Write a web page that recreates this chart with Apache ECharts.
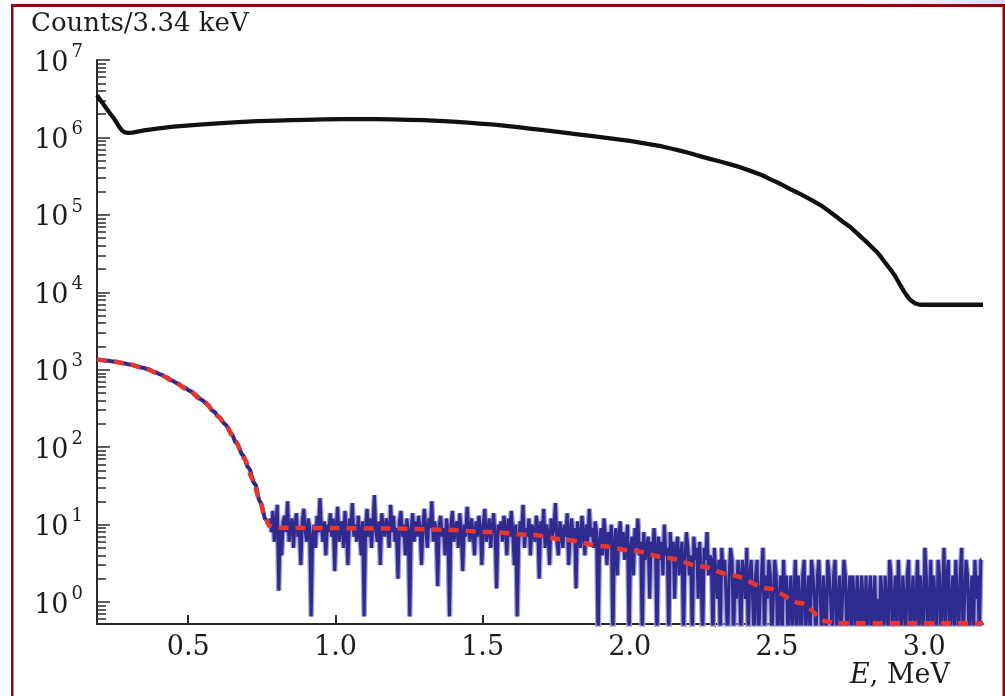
<!DOCTYPE html>
<html><head><meta charset="utf-8">
<script src="https://cdn.jsdelivr.net/npm/echarts@6/dist/echarts.min.js"></script>
<style>html,body{margin:0;padding:0;background:#fff}#c{width:1005px;height:696px}</style>
</head><body><div id="c"></div>
<script>
// ---- tick labels ----
const xTicks = [0.5, 1.0, 1.5, 2.0, 2.5, 3.0];
const yDecades = [0, 1, 2, 3, 4, 5, 6, 7];
const minorMult = [2, 3, 4, 5, 6, 7, 8, 9];
const xMin = 0.19, xMax = 3.2, yMin = 0.52, yMax = 1e7;

// ---- black curve (total spectrum) [E, counts] ----
const totalSpectrum = [[0.19,3.5e6],[0.21,2.75e6],[0.23,2.15e6],[0.25,1.7e6],[0.265,1.38e6],[0.275,1.23e6],[0.285,1.16e6],[0.295,1.145e6],[0.31,1.155e6],[0.35,1.23e6],[0.40,1.31e6],[0.45,1.375e6],[0.506,1.43e6],[0.55,1.47e6],[0.60,1.52e6],[0.67,1.575e6],[0.734,1.62e6],[0.80,1.65e6],[0.85,1.67e6],[0.90,1.69e6],[0.96,1.71e6],[1.02,1.72e6],[1.08,1.72e6],[1.14,1.72e6],[1.19,1.71e6],[1.25,1.69e6],[1.30,1.67e6],[1.35,1.64e6],[1.40,1.60e6],[1.45,1.555e6],[1.49,1.51e6],[1.54,1.46e6],[1.58,1.41e6],[1.62,1.36e6],[1.66,1.30e6],[1.70,1.25e6],[1.75,1.19e6],[1.79,1.14e6],[1.83,1.09e6],[1.875,1.04e6],[1.92,9.9e5],[1.96,9.45e5],[2.0,9.0e5],[2.05,8.4e5],[2.105,7.7e5],[2.14,7.2e5],[2.17,6.75e5],[2.205,6.25e5],[2.241,5.7e5],[2.275,5.25e5],[2.31,4.85e5],[2.345,4.45e5],[2.377,4.1e5],[2.41,3.7e5],[2.45,3.25e5],[2.48,2.85e5],[2.513,2.5e5],[2.545,2.15e5],[2.58,1.85e5],[2.615,1.57e5],[2.649,1.33e5],[2.675,1.13e5],[2.70,9.6e4],[2.725,8.1e4],[2.75,6.9e4],[2.77,5.9e4],[2.79,5.0e4],[2.805,4.45e4],[2.82,3.9e4],[2.84,3.3e4],[2.855,2.8e4],[2.87,2.35e4],[2.887,1.94e4],[2.90,1.65e4],[2.91,1.42e4],[2.92,1.22e4],[2.93,1.05e4],[2.94,9.2e3],[2.95,8.2e3],[2.96,7.6e3],[2.97,7.2e3],[2.98,7.0e3],[2.99,6.9e3],[3.1,6.9e3],[3.2,6.9e3]];

// ---- blue spectrum, low-energy part [E, counts] ----
const blueLowE = [[0.19,1370],[0.20,1340],[0.21,1335],[0.22,1310],[0.23,1305],[0.24,1280],[0.25,1275],[0.26,1245],[0.27,1235],[0.28,1210],[0.29,1195],[0.30,1165],[0.31,1155],[0.32,1115],[0.33,1105],[0.34,1070],[0.35,1055],[0.36,1015],[0.37,995],[0.38,950],[0.39,925],[0.40,885],[0.41,860],[0.42,815],[0.43,790],[0.44,740],[0.45,710],[0.46,670],[0.47,645],[0.48,605],[0.49,585],[0.50,545],[0.51,525],[0.52,480],[0.53,460],[0.54,420],[0.55,400],[0.56,365],[0.57,345],[0.58,300],[0.59,285],[0.60,250],[0.61,235],[0.62,205],[0.63,190],[0.64,160],[0.65,145],[0.66,116],[0.67,106],[0.68,83],[0.69,75],[0.70,57],[0.71,51],[0.72,36],[0.73,32],[0.74,21],[0.75,18],[0.76,12],[0.77,11]];

// ---- blue spectrum, noisy part: bins from 0.78 MeV, 5 keV wide (0 = empty bin) ----
const noiseStart = 0.78, binWidth = 0.005;
const noiseCounts = [
12,8,15,6,10,18,1.4,9,4,11,13,8,20,6,9,12,5,10,14,7,
9,3,11,16,8,6,12,9,0.65,7,10,5,13,8,22,9,6,11,4,10,
8,14,7,12,2.5,9,17,6,10,11,5,15,8,3,12,9,19,7,10,6,
13,8,4,11,0.65,9,16,7,12,5,10,24,8,6,11,3,14,9,7,12,
10,5,18,8,13,6,9,2,11,15,7,10,4,12,8,0.65,9,14,6,11,
7,13,9,3,10,16,8,5,12,9,20,6,11,8,1.6,10,13,7,9,4,
12,8,0.65,10,15,6,9,11,5,14,8,2.5,10,7,17,9,6,12,8,4,
11,7,13,9,3,10,16,6,8,12,5,9,14,7,1.5,10,8,11,6,13,
9,4,12,7,15,8,3,10,0.65,6,11,8,18,5,9,7,12,4,10,8,
6,13,9,2,11,7,16,5,10,8,3,12,7,9,19,6,4,11,8,5,
10,7,14,3,8,12,6,9,1.5,11,7,5,13,8,4,10,6,16,7,9,
5,11,8,0,6,9,4,12,7,3,8,5,10,0,6,9,2.2,7,11,5,
8,3.5,6,10,0,5,7,2.2,9,5,12,4,6,0,8,3.5,5,7,1.1,6,
4,9,5,0,7,3.5,6,2.2,10,4,5,0,8,3.5,6,1.1,5,7,2.2,4,
6,0,3.5,8,5,2.2,4,0,7,3.5,5,1.1,6,2.2,0,5,3.5,8,2.2,4,
3.5,0,5,2.2,1.1,3.5,0,5,2.2,3.5,1.1,0,2.2,5,3.5,0,2.2,1.1,3.5,2.2,
0,3.5,2.2,1.1,5,0,2.2,3.5,1.1,0,2.2,3.5,0,1.1,2.2,5,0,2.2,1.1,3.5,
2.2,0,1.1,3.5,2.2,0,1.1,2.2,0,3.5,1.1,2.2,0,1.1,2.2,0,1.1,3.5,0,2.2,
1.1,0,2.2,3.5,0,1.1,2.2,0,3.5,2.2,1.1,0,2.2,3.5,1.1,0,2.2,1.1,0,3.5,
2.2,1.1,0,2.2,3.5,0,1.1,2.2,0,1.1,3.5,2.2,0,1.1,2.2,0,2.2,1.1,0,2.2,
1.1,0,2.2,1.1,0,2.2,0,1.1,2.2,0,1.1,2.2,0,1.1,0,2.2,1.1,0,2.2,1.1,
0,3.5,2.2,0,1.1,2.2,0,3.5,1.1,0,2.2,1.1,0,2.2,3.5,0,1.1,2.2,0,1.1,
3.5,0,2.2,1.1,0,5,2.2,0,1.1,3.5,0,2.2,1.1,0,3.5,2.2,0,1.1,5,0,
2.2,3.5,0,1.1,2.2,0,3.5,1.1,0,2.2,5,0,1.1,3.5,2.2,0,1.1,2.2,0,3.5,1.1,2.2,0,3.5
];

// ---- red dashed fit [E, counts] ----
const fitCurve = [[0.19,1360],[0.25,1270],[0.30,1170],[0.35,1050],[0.40,890],[0.45,705],[0.50,550],[0.55,395],[0.60,255],[0.63,185],[0.66,120],[0.69,72],[0.72,38],[0.74,22],[0.76,13],[0.775,9.6],[0.80,9.1],[1.0,9.0],[1.18,8.9],[1.37,8.6],[1.52,8.0],[1.66,7.4],[1.78,6.4],[1.90,5.3],[2.01,4.6],[2.13,3.7],[2.24,2.9],[2.35,2.2],[2.47,1.5],[2.58,0.97],[2.67,0.56],[2.70,0.53],[3.2,0.53]];

// build noisy histogram points (empty bins drawn down past the axis floor)
const EMPTY_FLOOR = 0.3;
const noisePoints = noiseCounts.map((c, i) => [+(noiseStart + i * binWidth).toFixed(4), c > 0 ? c : EMPTY_FLOOR]);

const minorLog = [];
for (let d = -1; d <= 6; d++) for (const m of minorMult) {
  const v = m * Math.pow(10, d);
  if (v >= yMin && v <= yMax) minorLog.push(Math.log10(v));
}

const SERIF = 'DejaVu Serif';
const TXT = '#1c1c1c';
const chart = echarts.init(document.getElementById('c'), null, {renderer: 'canvas'});
chart.setOption({
  animation: false,
  backgroundColor: '#ffffff',
  title: [
    {text: 'Counts/3.34 keV', left: 26, top: 6,
     textStyle: {fontFamily: SERIF, fontSize: 26, fontWeight: 'normal', color: TXT}},
    {text: '{i|E}{n|, MeV}', right: 50, top: 657,
     textStyle: {fontWeight: 'normal', rich: {
       i: {fontFamily: SERIF, fontStyle: 'italic', fontWeight: 'normal', fontSize: 27, color: TXT},
       n: {fontFamily: SERIF, fontWeight: 'normal', fontSize: 27, color: TXT}}}}
  ],
  grid: {left: 97, right: 22, top: 60, bottom: 72, containLabel: false},
  xAxis: {
    type: 'value', min: xMin, max: xMax,
    axisLine: {show: true, onZero: false, lineStyle: {color: '#2a2a2a', width: 2}},
    axisTick: {show: true, inside: true, length: 9, customValues: xTicks, lineStyle: {color: '#2a2a2a', width: 2}},
    axisLabel: {show: true, customValues: xTicks, margin: 10, formatter: v => v.toFixed(1),
      fontFamily: SERIF, fontSize: 27, color: TXT},
    splitLine: {show: false}
  },
  yAxis: [
    {
      type: 'log', logBase: 10, min: yMin, max: yMax,
      axisLine: {show: true, lineStyle: {color: '#2a2a2a', width: 2}},
      axisTick: {show: true, inside: true, length: 13, lineStyle: {color: '#2a2a2a', width: 1.5}},
      axisLabel: {
        show: true, margin: 14,
        formatter: function (v) {
          const l = Math.log10(v), n = Math.round(l);
          if (Math.abs(l - n) > 1e-6 || yDecades.indexOf(n) < 0) return '';
          return '{b|10}{s|' + n + '}';
        },
        rich: {
          b: {fontFamily: SERIF, fontSize: 27, color: TXT, lineHeight: 34, verticalAlign: 'bottom', padding: [4, 0, 0, 0]},
          s: {fontFamily: SERIF, fontSize: 18, color: TXT, lineHeight: 18, verticalAlign: 'top', padding: [0, 0, 0, 3]}
        }
      },
      splitLine: {show: false}, minorTick: {show: false}
    },
    {
      type: 'value', min: Math.log10(yMin), max: Math.log10(yMax), position: 'left',
      axisLine: {show: false, onZero: false},
      axisTick: {show: true, inside: true, length: 9, customValues: minorLog, lineStyle: {color: '#2a2a2a', width: 1.5}},
      axisLabel: {show: false}, splitLine: {show: false}
    }
  ],
  series: [
    {type: 'line', name: 'halo', data: noisePoints, step: 'middle', symbol: 'none', clip: true,
     lineStyle: {color: '#a29ed4', width: 5.5}, z: 2},
    {type: 'line', name: 'noise', data: noisePoints, step: 'middle', symbol: 'none', clip: true,
     lineStyle: {color: '#2f2a8e', width: 3}, z: 3},
    {type: 'line', name: 'lowE', data: blueLowE, symbol: 'none', clip: true,
     lineStyle: {color: '#2f2a8e', width: 4}, z: 3},
    {type: 'line', name: 'fit', data: fitCurve, smooth: 0.3, smoothMonotone: 'x', symbol: 'none', clip: false,
     lineStyle: {color: '#e8362c', width: 4.5, type: [10, 7]}, z: 4},
    {type: 'line', name: 'total', data: totalSpectrum, smooth: false, symbol: 'none', clip: true,
     lineStyle: {color: '#111111', width: 4.3, join: 'round'}, z: 5}
  ],
  graphic: [
    {type: 'rect', shape: {x: 860, y: 0, width: 145, height: 4},
     style: {fill: new echarts.graphic.LinearGradient(0, 0, 1, 0, [{offset: 0, color: '#ffffff'}, {offset: 1, color: '#c8e4fb'}])}, silent: true},
    {type: 'rect', shape: {x: 11, y: 4, width: 994, height: 3}, style: {fill: '#8a0b0b'}, silent: true},
    {type: 'rect', shape: {x: 11, y: 4, width: 2.5, height: 692}, style: {fill: '#8a0b0b'}, silent: true},
    {type: 'rect', shape: {x: 1002.5, y: 4, width: 2.5, height: 692}, style: {fill: '#8a0b0b'}, silent: true}
  ]
});
</script></body></html>
